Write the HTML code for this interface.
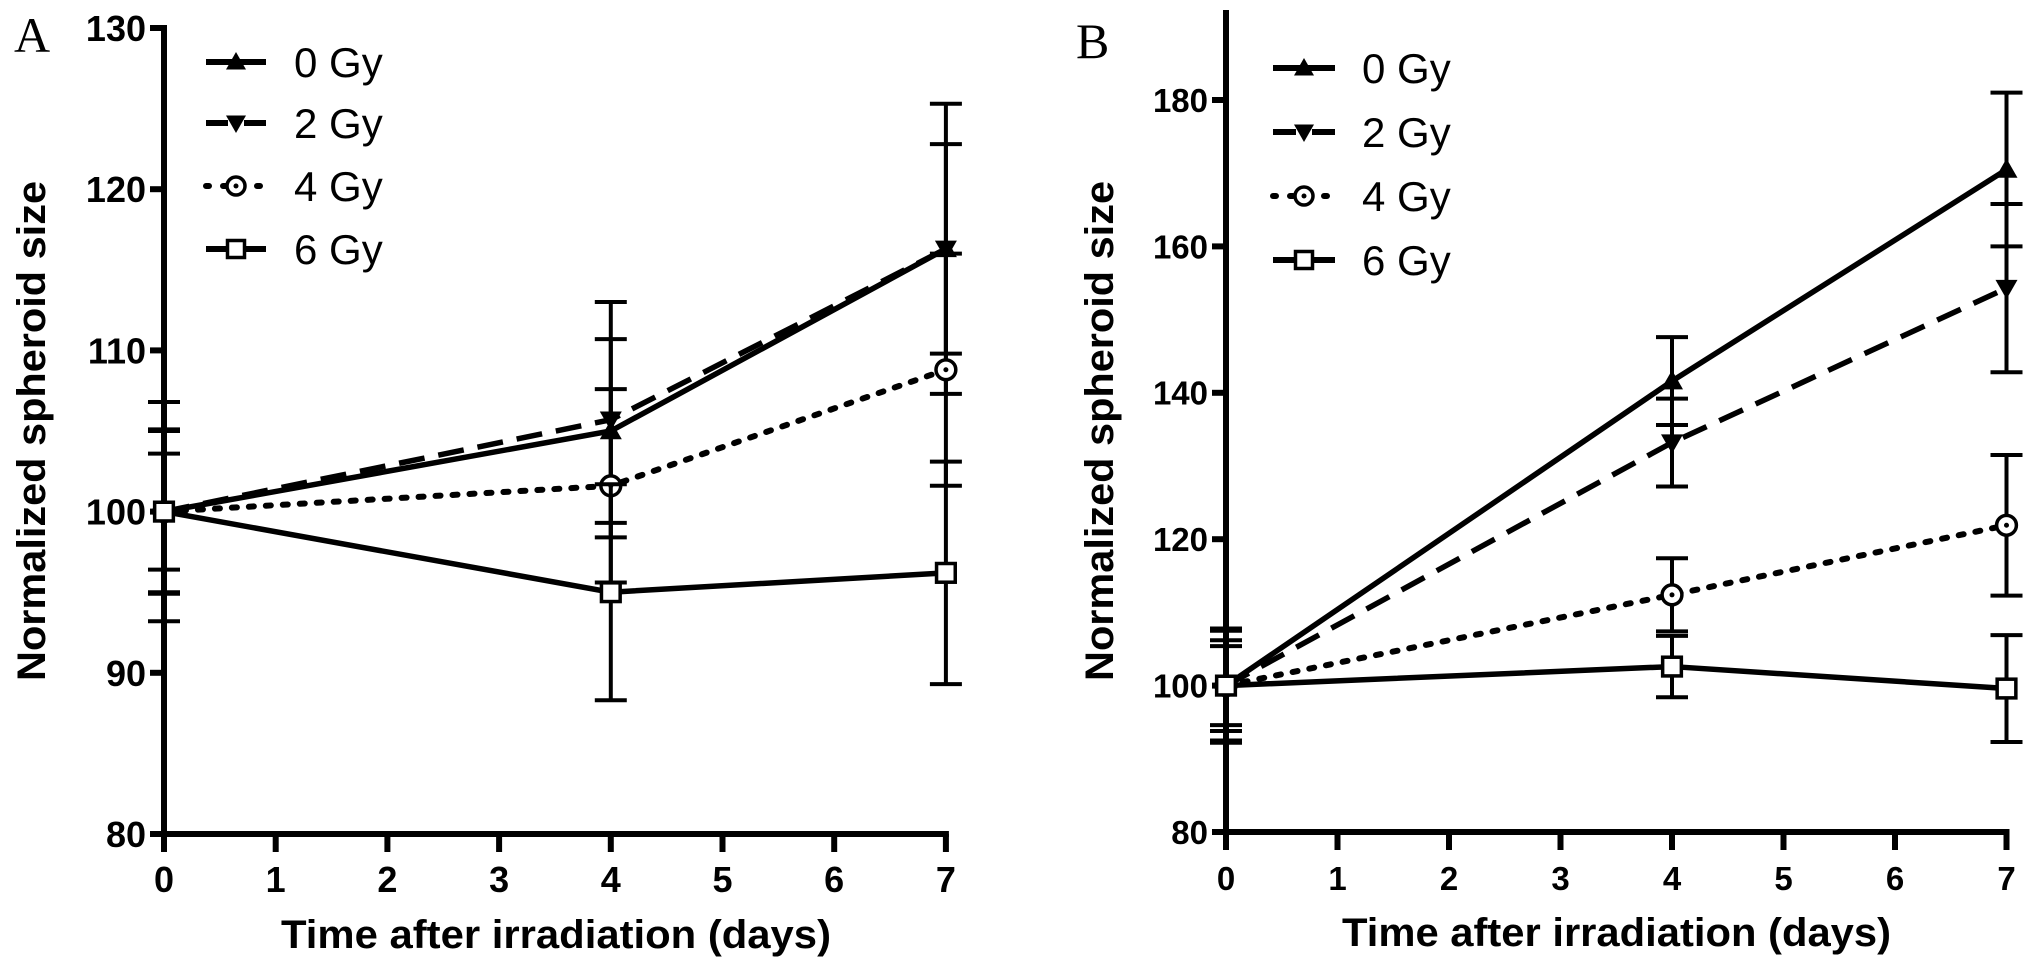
<!DOCTYPE html>
<html><head><meta charset="utf-8">
<style>
html,body{margin:0;padding:0;background:#fff;}
svg{display:block;}
text{font-family:"Liberation Sans",Arial,sans-serif;fill:#000;}
</style></head>
<body>
<svg id="fig" width="2031" height="979" viewBox="0 0 2031 979" xmlns="http://www.w3.org/2000/svg"></svg>
<script>
// ---- data ----
const days = [0, 4, 7];
const seriesNames = ["0 Gy", "2 Gy", "4 Gy", "6 Gy"];
const aGy0 = [100, 105.0, 116.3];
const aGy2 = [100, 105.7, 116.3];
const aGy4 = [100, 101.6, 108.8];
const aGy6 = [100, 95.0, 96.2];
const aErr0 = [3.6, 5.7, 9.0];
const aErr2 = [5.1, 7.3, 6.5];
const aErr4 = [6.8, 6.0, 7.2];
const aErr6 = [5.0, 6.7, 6.9];
const bGy0 = [100, 141.6, 170.5];
const bGy2 = [100, 133.2, 154.3];
const bGy4 = [100, 112.4, 121.9];
const bGy6 = [100, 102.6, 99.6];
const bErr0 = [7.8, 6.0, 10.5];
const bErr2 = [7.5, 6.0, 11.5];
const bErr4 = [6.2, 5.0, 9.6];
const bErr6 = [5.4, 4.2, 7.3];
const xTicks = [0, 1, 2, 3, 4, 5, 6, 7];
const aYTicks = [80, 90, 100, 110, 120, 130];
const bYTicks = [80, 100, 120, 140, 160, 180];

const NS = "http://www.w3.org/2000/svg";
const svg = document.getElementById("fig");
function mk(tag, attrs, parent){
  const e = document.createElementNS(NS, tag);
  for (const k in attrs) e.setAttribute(k, attrs[k]);
  (parent||svg).appendChild(e);
  return e;
}
const dashes = ["", "26 14", "5 12", ""];
const markerKinds = ["up", "down", "circle", "square"];

function marker(g, kind, cx, cy, s){
  let m;
  if (kind === "up") m = mk("polygon", {points:`${cx},${cy-s} ${cx-s},${cy+s*0.75} ${cx+s},${cy+s*0.75}`, fill:"#000"}, g);
  else if (kind === "down") m = mk("polygon", {points:`${cx},${cy+s} ${cx-s},${cy-s*0.75} ${cx+s},${cy-s*0.75}`, fill:"#000"}, g);
  else if (kind === "circle") {
    m = mk("circle", {cx:cx, cy:cy, r:s*0.9, fill:"#fff", stroke:"#000", "stroke-width":3.5}, g);
    mk("circle", {cx:cx, cy:cy, r:2.5, fill:"#000"}, g);
  } else m = mk("rect", {x:cx-s*0.85, y:cy-s*0.85, width:s*1.7, height:s*1.7, fill:"#fff", stroke:"#000", "stroke-width":3.5}, g);
  
  
}

function panel(cfg){
  const g = mk("g", {});
  
  
  const X = v => cfg.x0 + v * cfg.dx;
  const Y = v => cfg.yBase - (v - cfg.yMin) * cfg.py;
  const ya = mk("line", {x1:cfg.x0, y1:cfg.axisTop, x2:cfg.x0, y2:cfg.yBase+18, stroke:"#000", "stroke-width":6}, g);
  
  
  const xa = mk("line", {x1:cfg.x0-14, y1:cfg.yBase, x2:X(7)+3, y2:cfg.yBase, stroke:"#000", "stroke-width":6}, g);
  
  
  cfg.yTicks.forEach(t => {
    mk("line", {x1:cfg.x0-14, y1:Y(t), x2:cfg.x0, y2:Y(t), stroke:"#000", "stroke-width":6}, g);
    const tl = mk("text", {x:cfg.x0-18, y:Y(t)+cfg.tickFont*0.36, "font-size":cfg.tickFont, "font-weight":"bold", "text-anchor":"end"}, g);
    tl.textContent = t;
    
    
  });
  xTicks.forEach(t => {
    mk("line", {x1:X(t), y1:cfg.yBase, x2:X(t), y2:cfg.yBase+18, stroke:"#000", "stroke-width":6}, g);
    const tl = mk("text", {x:X(t), y:cfg.yBase+58, "font-size":cfg.tickFont, "font-weight":"bold", "text-anchor":"middle"}, g);
    tl.textContent = t;
    
    
  });
  const xt = mk("text", {x:cfg.xtX, y:cfg.xtY, "font-size":40, "font-weight":"bold", textLength:cfg.xtW, lengthAdjust:"spacingAndGlyphs"}, g);
  xt.textContent = "Time after irradiation (days)";
  
  
  const yt = mk("text", {x:0, y:0, "font-size":40, "font-weight":"bold", textLength:500, lengthAdjust:"spacingAndGlyphs", transform:`translate(${cfg.ytX},681) rotate(-90)`}, g);
  yt.textContent = "Normalized spheroid size";
  
  
  const pl = mk("text", {x:cfg.labX, y:cfg.labY, "font-size":50, style:'font-family:"Liberation Serif",serif'}, g);
  pl.textContent = cfg.letter;
  
  
  cfg.series.forEach((vals, si) => {
    const sg = mk("g", {}, g);
    
    
    vals.forEach((v, i) => {
      const e = cfg.errs[si][i];
      const eb = mk("line", {x1:X(days[i]), y1:Y(v+e), x2:X(days[i]), y2:Y(v-e), stroke:"#000", "stroke-width":4}, sg);
      
      
      [v+e, v-e].forEach(c => mk("line", {x1:X(days[i])-16, y1:Y(c), x2:X(days[i])+16, y2:Y(c), stroke:"#000", "stroke-width":4}, sg));
    });
    const pts = vals.map((v,i)=>`${X(days[i])},${Y(v)}`).join(" ");
    const ln = mk("polyline", {points:pts, fill:"none", stroke:"#000", "stroke-width":si===2?6:5.5, "stroke-dasharray":dashes[si], "stroke-linecap":si===2?"round":"butt"}, sg);
    
    
    vals.forEach((v,i) => marker(sg, markerKinds[si], X(days[i]), Y(v), 11));
  });
  cfg.legY.forEach((ly, si) => {
    const lg = mk("g", {}, g);
    
    
    mk("line", {x1:cfg.legX1, y1:ly, x2:cfg.legX2, y2:ly, stroke:"#000", "stroke-width":6, "stroke-dasharray":si===2?"3 14":"", "stroke-linecap":si===2?"round":"butt"}, lg);
    if (si===1) mk("line", {x1:(cfg.legX1+cfg.legX2)/2-8, y1:ly, x2:(cfg.legX1+cfg.legX2)/2+8, y2:ly, stroke:"#fff", "stroke-width":8}, lg);
    marker(lg, markerKinds[si], (cfg.legX1+cfg.legX2)/2, ly, 10);
    const t = mk("text", {x:cfg.legTX, y:ly+15, "font-size":42}, lg);
    t.textContent = seriesNames[si];
  });
}

panel({name:"panel-a", letter:"A", x0:164, dx:111.7, yMin:80, yBase:834, py:16.12, axisTop:25,
  yTicks:aYTicks, tickFont:36, series:[aGy0,aGy2,aGy4,aGy6], errs:[aErr0,aErr2,aErr4,aErr6],
  xtX:281, xtY:948, xtW:550, ytX:45, labX:14, labY:52,
  legY:[62,123,186,249], legX1:206, legX2:266, legTX:294});
panel({name:"panel-b", letter:"B", x0:1226, dx:111.5, yMin:80, yBase:832, py:7.32, axisTop:10,
  yTicks:bYTicks, tickFont:33, series:[bGy0,bGy2,bGy4,bGy6], errs:[bErr0,bErr2,bErr4,bErr6],
  xtX:1342, xtY:946, xtW:549, ytX:1113, labX:1076, labY:58,
  legY:[68,132,196,260], legX1:1273, legX2:1335, legTX:1362});
</script>
</body></html>
